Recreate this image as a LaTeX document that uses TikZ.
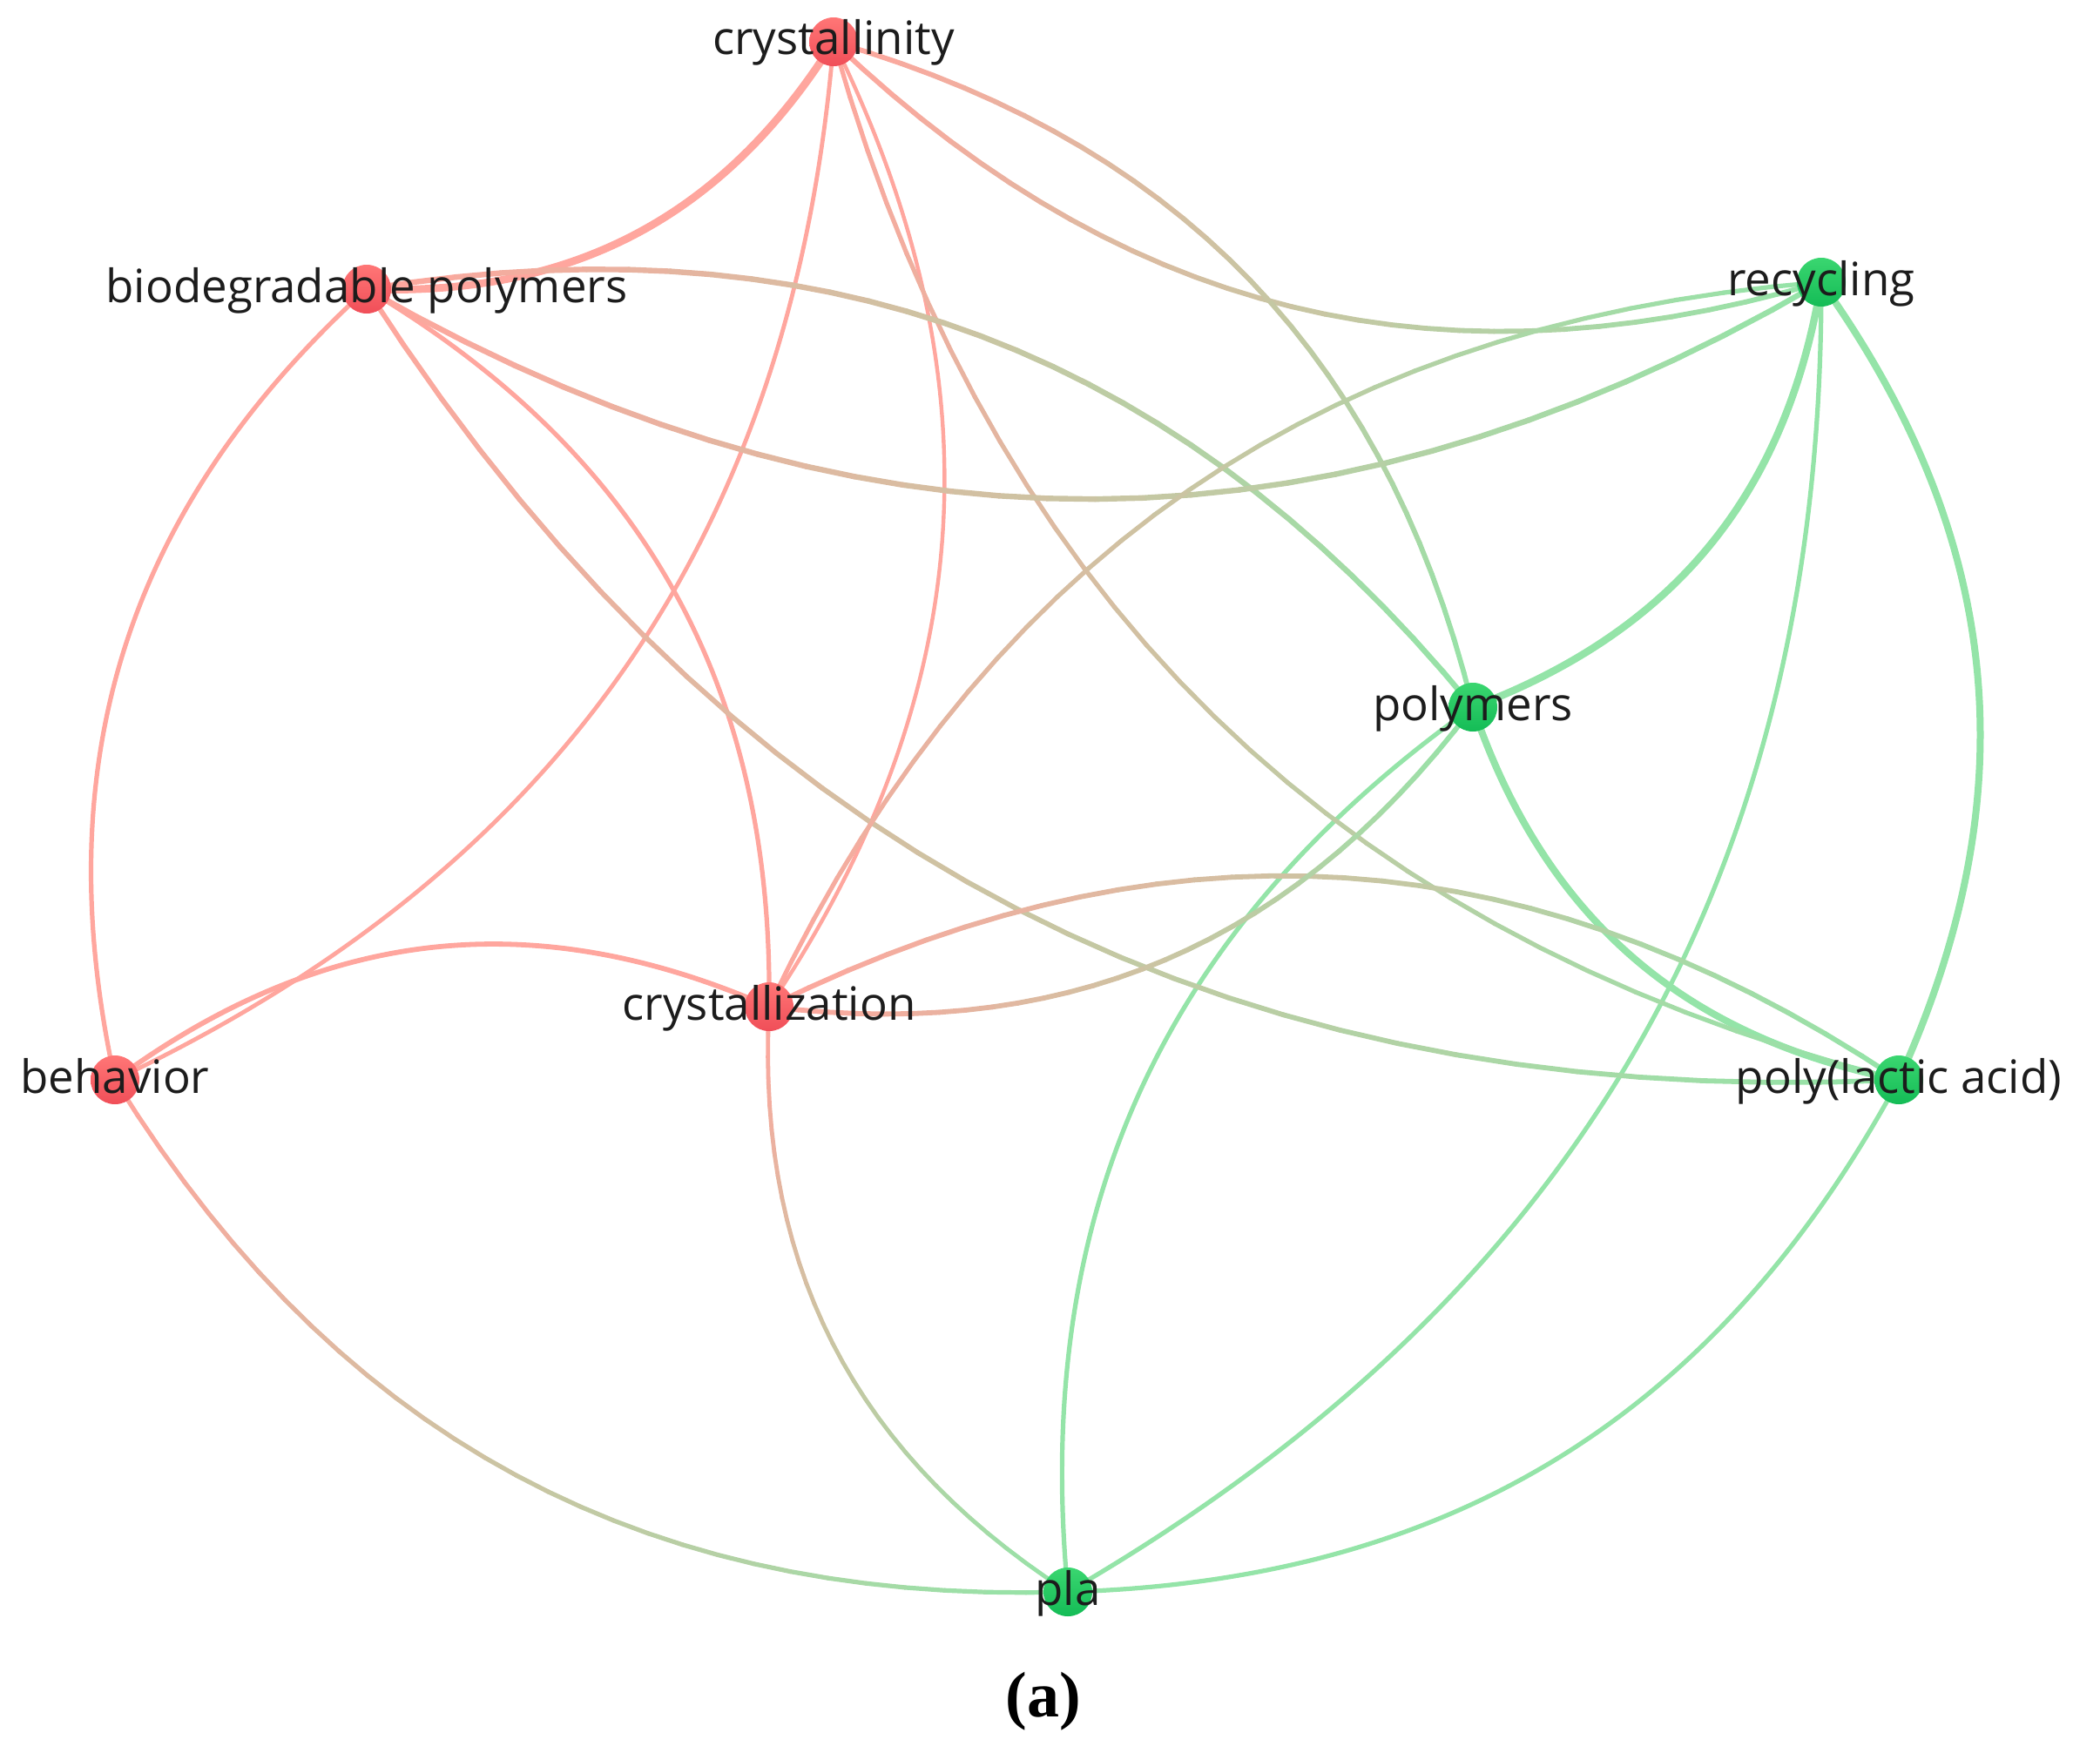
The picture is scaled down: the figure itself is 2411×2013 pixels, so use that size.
\documentclass[tikz,border=0pt]{standalone}
\usepackage{fontspec}
\setmainfont{Open Sans}
\newfontfamily\capfont{Liberation Serif}
\definecolor{edgered}{RGB}{255,166,158}
\definecolor{edgegreen}{RGB}{148,228,168}
\definecolor{nodered}{RGB}{240,78,88}
\definecolor{noderedtop}{RGB}{255,118,118}
\definecolor{nodegreen}{RGB}{20,188,86}
\definecolor{nodegreentop}{RGB}{58,214,112}
\definecolor{labelink}{RGB}{28,28,28}
\tikzset{
  redge/.style={draw=edgered, line cap=round},
  gedgestyle/.style={draw=edgegreen, line cap=round},
  rnode/.style={circle, minimum size=14pt, inner sep=0pt, top color=noderedtop, bottom color=nodered, draw=none},
  gnode/.style={circle, minimum size=14pt, inner sep=0pt, top color=nodegreentop, bottom color=nodegreen, draw=none},
  lab/.style={anchor=base, yshift=-3.75pt, inner sep=0pt, text=labelink, font=\fontsize{13.2}{15}\selectfont},
}
% gradient edge: #1 -> #2 bent left, colour #3 at #1 and #4 at #2, width #5
\newcommand\gradedge[5]{%
  \foreach \k in {0,...,30}{%
    \pgfmathsetmacro\gpos{\k/30}%
    \path (#1) to[bend left=30] coordinate[pos=\gpos] (gq\k) (#2);%
  }%
  \foreach \k in {1,...,30}{%
    \pgfmathtruncatemacro\kp{\k-1}%
    \pgfmathsetmacro\gpc{100*(\k-0.5)/30}%
    \draw[line width=#5, line cap=round, color=#4!\gpc!#3] (gq\kp) -- (gq\k);%
  }%
}
\begin{document}
\begin{tikzpicture}[x=0.25pt,y=0.25pt]
\useasboundingbox (0,0) rectangle (2411,-2013);
% node centres
\coordinate (CY) at (957,-48);
\coordinate (BP) at (421,-332);
\coordinate (RC) at (2091,-324);
\coordinate (PO) at (1691,-812);
\coordinate (CZ) at (883,-1156);
\coordinate (BE) at (132,-1240);
\coordinate (PL) at (2180,-1240);
\coordinate (PA) at (1226,-1828);
% red cluster edges
\draw[redge, line width=2.2pt] (CY) to[bend left=30] (BP);
\draw[redge, line width=1.2pt] (CY) to[bend left=30] (BE);
\draw[redge, line width=1.1pt] (CY) to[bend left=30] (CZ);
\draw[redge, line width=1.3pt] (BE) to[bend left=30] (BP);
\draw[redge, line width=1.3pt] (BP) to[bend left=30] (CZ);
\draw[redge, line width=1.45pt] (BE) to[bend left=30] (CZ);
% green cluster edges
\draw[gedgestyle, line width=2.1pt] (RC) to[bend left=30] (PO);
\draw[gedgestyle, line width=1.3pt] (RC) to[bend left=30] (PA);
\draw[gedgestyle, line width=2pt] (RC) to[bend left=30] (PL);
\draw[gedgestyle, line width=1.3pt] (PA) to[bend left=30] (PO);
\draw[gedgestyle, line width=2pt] (PL) to[bend left=30] (PO);
\draw[gedgestyle, line width=1.3pt] (PL) to[bend left=30] (PA);
% mixed edges
\gradedge{PL}{CY}{edgegreen}{edgered}{1.3pt}
\gradedge{RC}{CY}{edgegreen}{edgered}{1.45pt}
\gradedge{CY}{PO}{edgered}{edgegreen}{1.45pt}
\gradedge{BP}{PO}{edgered}{edgegreen}{1.6pt}
\gradedge{RC}{BP}{edgegreen}{edgered}{1.6pt}
\gradedge{PL}{BP}{edgegreen}{edgered}{1.45pt}
\gradedge{CZ}{RC}{edgered}{edgegreen}{1.3pt}
\gradedge{CZ}{PL}{edgered}{edgegreen}{1.45pt}
\gradedge{PO}{CZ}{edgegreen}{edgered}{1.45pt}
\gradedge{PA}{CZ}{edgegreen}{edgered}{1.2pt}
\gradedge{PA}{BE}{edgegreen}{edgered}{1.3pt}
% nodes
\node[rnode] (CYn) at (CY) {};
\node[rnode] (BPn) at (BP) {};
\node[rnode] (CZn) at (CZ) {};
\node[rnode] (BEn) at (BE) {};
\node[gnode] (RCn) at (RC) {};
\node[gnode] (POn) at (PO) {};
\node[gnode] (PLn) at (PL) {};
\node[gnode] (PAn) at (PA) {};
% labels
\node[lab] (CYl) at (CY) {crystallinity};
\node[lab] (BPl) at (BP) {biodegradable polymers};
\node[lab] (CZl) at (CZ) {crystallization};
\node[lab] (BEl) at (BE) {behavior};
\node[lab] (RCl) at (RC) {recycling};
\node[lab] (POl) at (PO) {polymers};
\node[lab] (PLl) at (PL) {poly(lactic acid)};
\node[lab] (PAl) at (PA) {pla};
\node[anchor=base, inner sep=0pt, font=\capfont\bfseries\fontsize{18.5}{20}\selectfont] (cap) at (1198,-1971) {(a)};
\end{tikzpicture}
\end{document}
